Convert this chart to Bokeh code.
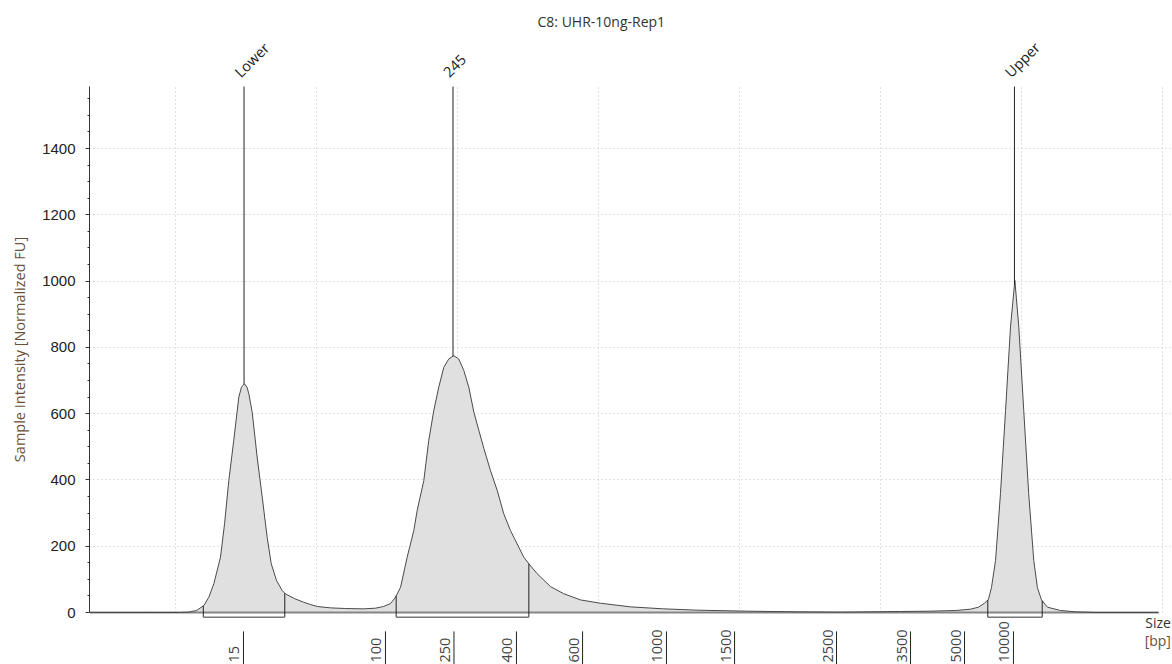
import numpy as np
from bokeh.plotting import figure
from bokeh.models import Range1d, FixedTicker
from bokeh.core.properties import value
from bokeh.embed import file_html
from bokeh.resources import INLINE

# ---------------- data ----------------
title_text = "C8: UHR-10ng-Rep1"
y_label = "Sample Intensity [Normalized FU]"

# run position (arbitrary migration units) and normalized intensity
position = [0.390, 0.823, 1.035, 1.092, 1.149, 1.201, 1.236, 1.272, 1.319, 1.348,
            1.378, 1.413, 1.449, 1.468, 1.489, 1.507, 1.520, 1.544, 1.579, 1.615,
            1.650, 1.679, 1.716, 1.757, 1.780, 1.844, 1.908, 1.957, 2.007, 2.099,
            2.206, 2.333, 2.418, 2.475, 2.525, 2.560, 2.596, 2.643, 2.690, 2.714,
            2.761, 2.796, 2.832, 2.867, 2.903, 2.938, 2.974, 3.009, 3.045, 3.080,
            3.116, 3.151, 3.187, 3.234, 3.282, 3.328, 3.376, 3.423, 3.470, 3.506,
            3.565, 3.660, 3.752, 3.872, 4.014, 4.227, 4.461, 4.702, 5.057, 5.411,
            5.716, 5.929, 6.142, 6.355, 6.532, 6.638, 6.695, 6.738, 6.766, 6.787,
            6.816, 6.851, 6.887, 6.922, 6.953, 6.981, 7.016, 7.051, 7.087, 7.113,
            7.142, 7.184, 7.277, 7.383, 7.525, 7.972]
intensity = [0, 0, 0, 1, 6, 21, 46, 87, 167, 268,
             398, 519, 650, 680, 690, 680, 660, 604, 469, 348,
             227, 147, 97, 66, 56, 42, 31, 24, 18, 14,
             12, 11, 13, 18, 27, 46, 76, 167, 247, 308,
             398, 519, 610, 680, 740, 765, 775, 765, 730, 680,
             605, 550, 495, 428, 368, 298, 247, 207, 167, 147,
             117, 78, 57, 38, 28, 17, 11, 7, 4, 2,
             1, 2, 3, 4, 6, 10, 16, 28, 40, 75,
             157, 359, 610, 861, 1002, 861, 610, 359, 157, 75,
             38, 16, 6, 2, 0, 0]

peak_names = ["Lower", "245", "Upper"]
peak_pos = [1.486, 2.968, 6.950]
region_start = [1.197, 2.565, 6.761]
region_end = [1.775, 3.506, 7.147]

ladder_sizes = ["15", "100", "250", "400", "600", "1000", "1500", "2500", "3500", "5000", "10000"]
ladder_pos = [1.482, 2.489, 2.975, 3.418, 3.887, 4.482, 4.965, 5.688, 6.213, 6.596, 6.943]

y_ticks = [0, 200, 400, 600, 800, 1000, 1200, 1400]
grid_pos = [1, 2, 3, 4, 5, 6, 7, 8]

# ---------------- style ----------------
SEG = value("Open Sans")
Y_TOP = 1587
BRACKET_Y = -14

p = figure(width=1172, height=664, output_backend="svg", toolbar_location=None,
           x_range=Range1d(0.390, 8.071), y_range=Range1d(-156.9, 1744.1),
           x_axis_location=None, min_border_left=89, min_border_right=0,
           min_border_top=34, min_border_bottom=0)
p.outline_line_color = None
p.background_fill_color = "white"
for g in p.xgrid:
    g.visible = False

p.title.text = title_text
p.title.align = "left"
p.title.offset = 448
p.title.text_font = "Open Sans"
p.title.text_font_style = "normal"
p.title.text_font_size = "14px"
p.title.text_color = "#333333"
p.title.standoff = 7

ya = p.yaxis[0]
minor = [v for v in range(50, 1600, 50) if v not in y_ticks]
ya.ticker = FixedTicker(ticks=y_ticks, minor_ticks=minor)
ya.bounds = (0, Y_TOP)
ya.axis_line_color = "#333333"
ya.major_tick_line_color = "#333333"
ya.minor_tick_line_color = "#333333"
ya.major_tick_out = 4
ya.major_tick_in = 0
ya.minor_tick_out = 2
ya.minor_tick_in = 0
ya.major_label_text_font = "Liberation Sans"
ya.major_label_text_font_size = "15px"
ya.major_label_text_color = "#222222"
ya.major_label_standoff = 10
ya.axis_label = y_label
ya.axis_label_text_font = "Open Sans"
ya.axis_label_text_font_style = "normal"
ya.axis_label_text_font_size = "14.5px"
ya.axis_label_text_color = "#6b4f3a"
ya.axis_label_standoff = 10

p.ygrid.ticker = FixedTicker(ticks=y_ticks[1:])
p.ygrid.grid_line_color = "#c4c4c4"
p.ygrid.grid_line_dash = "1 3"

# vertical dotted grid
p.segment(x0=grid_pos, y0=[0] * len(grid_pos), x1=grid_pos, y1=[Y_TOP] * len(grid_pos),
          line_color="#c4c4c4", line_dash="1 3", line_width=1)

# curve
p.varea(x=position, y1=[0] * len(position), y2=intensity, fill_color="#e0e0e0")
p.line([position[0], position[-1]], [0, 0], line_color="#858585", line_width=2)
p.line(position, intensity, line_color="#4a4a4a", line_width=1)

# regions
hs = np.interp(region_start, position, intensity)
he = np.interp(region_end, position, intensity)
p.segment(x0=region_start, y0=hs, x1=region_start, y1=[BRACKET_Y] * 3, line_color="#222222", line_width=1)
p.segment(x0=region_end, y0=he, x1=region_end, y1=[BRACKET_Y] * 3, line_color="#222222", line_width=1)
p.segment(x0=region_start, y0=[BRACKET_Y] * 3, x1=region_end, y1=[BRACKET_Y] * 3,
          line_color="#777777", line_width=1.5)

# peak markers
hp = np.interp(peak_pos, position, intensity)
p.segment(x0=peak_pos, y0=hp, x1=peak_pos, y1=[Y_TOP] * 3, line_color="#222222", line_width=1)
p.text(x=peak_pos, y=[1623] * 3, text=peak_names, angle=np.pi / 4, x_offset=-7,
       text_align="left", text_baseline="alphabetic", text_font=SEG,
       text_font_size="14.5px", text_color="#222222")

# ladder ticks & labels
p.segment(x0=ladder_pos, y0=[-57] * len(ladder_pos), x1=ladder_pos, y1=[-160] * len(ladder_pos),
          line_color="#222222", line_width=1)
p.text(x=ladder_pos, y=[-151] * len(ladder_pos), text=ladder_sizes, angle=np.pi / 2, x_offset=-4,
       text_align="left", text_baseline="bottom", text_font=SEG,
       text_font_size="14.5px", text_color="#444444")

# Size [bp]
p.text(x=[8.06], y=[-30], text=["Size"], text_align="right", text_baseline="middle",
       text_font=SEG, text_font_size="14px", text_color="#333333")
p.text(x=[8.06], y=[-85], text=["[bp]"], text_align="right", text_baseline="middle",
       text_font=SEG, text_font_size="14px", text_color="#6b4f3a")

open("out.html", "w").write(file_html(p, INLINE))
